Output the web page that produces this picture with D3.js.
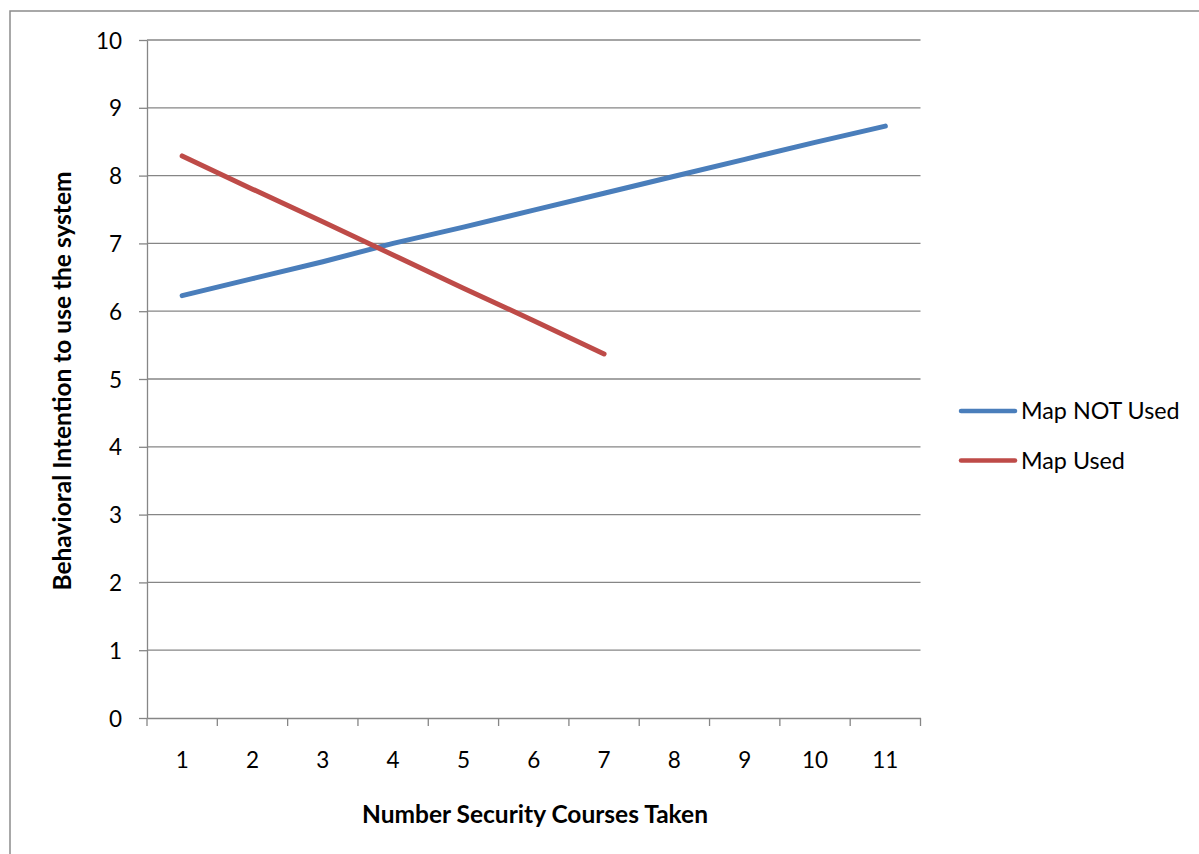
<!DOCTYPE html>
<html>
<head>
<meta charset="utf-8">
<script src="https://cdn.jsdelivr.net/npm/d3@7"></script>
<style>
  html, body { margin: 0; padding: 0; background: #fff; }
  svg { display: block; }
  text { font-family: Lato, "Open Sans", sans-serif; fill: #000; }
</style>
</head>
<body>
<svg id="chart" width="1199" height="854"></svg>
<script>
// Categories on the x axis: number of security courses taken
const courses = [1, 2, 3, 4, 5, 6, 7, 8, 9, 10, 11];
// Behavioral intention, group without the map
const mapNotUsed = [6.23, 6.48, 6.73, 7.0, 7.24, 7.49, 7.74, 7.99, 8.24, 8.49, 8.73];
// Behavioral intention, group with the map (courses 1..7 only)
const mapUsed = [8.29, 7.80, 7.32, 6.83, 6.34, 5.86, 5.37];
// Y-axis tick values
const yTicks = [0, 1, 2, 3, 4, 5, 6, 7, 8, 9, 10];
const seriesNames = ["Map NOT Used", "Map Used"];
const seriesColors = ["#4a7ebb", "#be4b48"];

const svg = d3.select("#chart");
const plot = { left: 147, right: 920.5, top: 40, bottom: 718 };
const gridColor = "#868686";

// Outer chart frame (only top and left edges fall inside the view)
svg.append("rect")
  .attr("x", 10).attr("y", 11)
  .attr("width", 1300).attr("height", 1000)
  .attr("fill", "none").attr("stroke", "#8c8c8c").attr("stroke-width", 1.5);

const x = d3.scaleBand().domain(courses).range([plot.left, plot.right]).padding(0);
const y = d3.scaleLinear().domain([0, 10]).range([plot.bottom, plot.top]);

// Horizontal gridlines
svg.append("g").selectAll("line").data(yTicks.filter(d => d > 0)).join("line")
  .attr("x1", plot.left).attr("x2", plot.right)
  .attr("y1", d => y(d)).attr("y2", d => y(d))
  .attr("stroke", gridColor).attr("stroke-width", 1.3);

// Y axis
const yAxis = svg.append("g")
  .attr("transform", `translate(${plot.left},0)`)
  .call(d3.axisLeft(y).tickValues(yTicks).tickSize(8).tickPadding(17).tickSizeOuter(0));
yAxis.select(".domain").attr("stroke", gridColor).attr("stroke-width", 1.3);
yAxis.selectAll(".tick line").attr("stroke", gridColor).attr("stroke-width", 1.3);
yAxis.selectAll(".tick text").style("font-size", "22.5px").attr("dy", "0.36em");

// X axis: ticks sit on band boundaries, labels at band centres
const xAxis = svg.append("g")
  .attr("transform", `translate(0,${plot.bottom})`)
  .call(d3.axisBottom(x).tickSize(0).tickPadding(34).tickSizeOuter(0));
xAxis.select(".domain").attr("stroke", gridColor).attr("stroke-width", 1.3);
xAxis.selectAll(".tick text").style("font-size", "22.5px");
const boundaries = courses.map(c => x(c)).concat([x(courses[courses.length - 1]) + x.bandwidth()]);
svg.append("g").selectAll("line").data(boundaries).join("line")
  .attr("x1", d => d).attr("x2", d => d)
  .attr("y1", plot.bottom).attr("y2", plot.bottom + 8)
  .attr("stroke", gridColor).attr("stroke-width", 1.3);

// Series lines
const line = d3.line()
  .x((d, i) => x(courses[i]) + x.bandwidth() / 2)
  .y(d => y(d));
[mapNotUsed, mapUsed].forEach((vals, k) => {
  svg.append("path")
    .datum(vals)
    .attr("d", line)
    .attr("fill", "none")
    .attr("stroke", seriesColors[k])
    .attr("stroke-width", 5)
    .attr("stroke-linecap", "round")
    .attr("stroke-linejoin", "round");
});

// Legend
const legend = svg.append("g");
seriesNames.forEach((name, k) => {
  const ly = 411 + k * 49.5;
  legend.append("line")
    .attr("x1", 961).attr("x2", 1015)
    .attr("y1", ly).attr("y2", ly)
    .attr("stroke", seriesColors[k]).attr("stroke-width", 4.5)
    .attr("stroke-linecap", "round");
  legend.append("text")
    .attr("x", 1021).attr("y", ly)
    .attr("dy", "0.36em")
    .style("font-size", "23.3px")
    .text(name);
});

// Axis titles
svg.append("text")
  .attr("x", 535).attr("y", 814)
  .attr("text-anchor", "middle")
  .attr("dy", "0.36em")
  .style("font-size", "24.5px").style("font-weight", "bold")
  .text("Number Security Courses Taken");

svg.append("text")
  .attr("transform", "translate(62,381) rotate(-90)")
  .attr("text-anchor", "middle")
  .attr("dy", "0.36em")
  .style("font-size", "24.5px").style("font-weight", "bold")
  .text("Behavioral Intention to use the system");
</script>
</body>
</html>
